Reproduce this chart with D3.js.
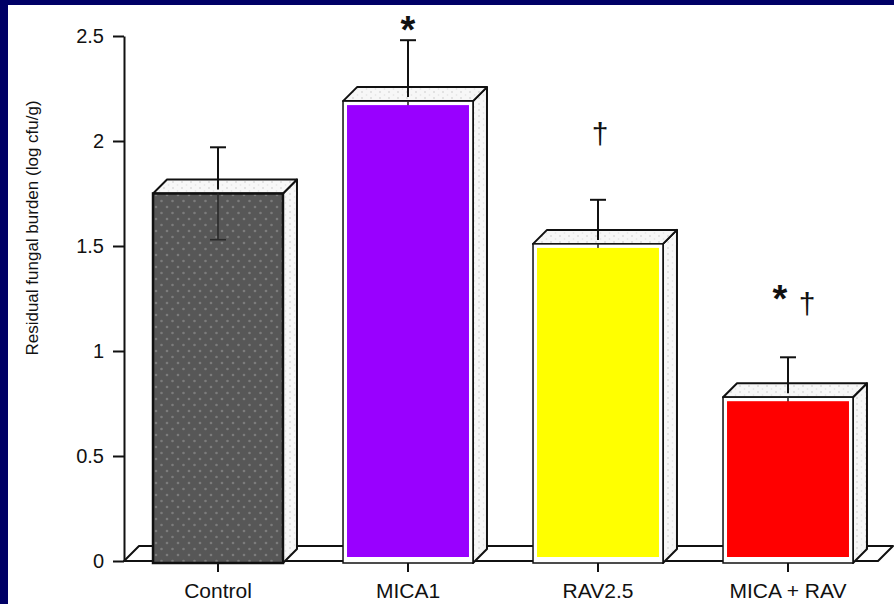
<!DOCTYPE html>
<html>
<head>
<meta charset="utf-8">
<script src="https://cdn.jsdelivr.net/npm/d3@7"></script>
<style>
  body { margin: 0; background: #000066; }
  svg { display: block; font-family: "Liberation Sans", Arial, sans-serif; }
</style>
</head>
<body>
<div id="chart"></div>
<script>
// residual fungal burden, 3d-ish bar chart
var categories = ["Control", "MICA1", "RAV2.5", "MICA + RAV"];
var means = [1.75, 2.19, 1.51, 0.78];
var errors = [0.22, 0.29, 0.21, 0.19];
var fills = ["pattern", "#9900ff", "#ffff00", "#ff0000"];
var yTicks = [0, 0.5, 1, 1.5, 2, 2.5];
// significance marks: category, symbol, height (data units), nudge
var marks = [
  {cat: "MICA1", sym: "*", at: 2.57, nudge: 0},
  {cat: "RAV2.5", sym: "\u2020", at: 2.03, nudge: 2},
  {cat: "MICA + RAV", sym: "*", at: 1.29, nudge: -8},
  {cat: "MICA + RAV", sym: "\u2020", at: 1.22, nudge: 19}
];

var W = 894, H = 604, depth = 14;

var svg = d3.select("#chart").append("svg")
  .attr("width", W)
  .attr("height", H);

var defs = svg.append("defs");
var pat = defs.append("pattern")
  .attr("id", "stipple")
  .attr("patternUnits", "userSpaceOnUse")
  .attr("width", 11).attr("height", 12);
pat.append("rect").attr("width", 11).attr("height", 12).attr("fill", "#575757");
pat.append("circle").attr("cx", 2).attr("cy", 3).attr("r", 1.3).attr("fill", "#7c7c7c");
pat.append("circle").attr("cx", 7.5).attr("cy", 9).attr("r", 1.3).attr("fill", "#7c7c7c");

var speck = defs.append("pattern")
  .attr("id", "speck")
  .attr("patternUnits", "userSpaceOnUse")
  .attr("width", 9).attr("height", 6);
speck.append("rect").attr("width", 9).attr("height", 6).attr("fill", "#f7f7f7");
speck.append("circle").attr("cx", 2).attr("cy", 2).attr("r", 1).attr("fill", "#dcdcdc");
speck.append("circle").attr("cx", 6.5).attr("cy", 5).attr("r", 0.8).attr("fill", "#e2e2e2");

// white panel inside the navy frame
svg.append("rect")
  .attr("x", 8).attr("y", 5)
  .attr("width", W - 8).attr("height", H - 5)
  .attr("fill", "#ffffff");

var x = d3.scaleBand()
  .domain(categories)
  .range([123, 883])
  .paddingInner(0.316)
  .paddingOuter(0.158);

var y = d3.scaleLinear()
  .domain([0, 2.5])
  .range([561, 36]);

var base = y(0);

// floor
var fx0 = x.range()[0] + 1, fx1 = x.range()[1] - 5;
svg.append("polygon")
  .attr("points", [[fx0, base], [fx0 + depth + 1, base - depth - 1],
                   [fx1 + depth + 1, base - depth - 1], [fx1, base]].join(" "))
  .attr("fill", "#ffffff")
  .attr("stroke", "#111")
  .attr("stroke-width", 2)
  .attr("stroke-linejoin", "round");

var bars = svg.selectAll("g.bar")
  .data(categories.map((c, i) => ({cat: c, v: means[i], e: errors[i], fill: fills[i]})))
  .enter().append("g")
  .attr("class", "bar");

bars.each(function(d) {
  var g = d3.select(this);
  var x0 = x(d.cat), x1 = x(d.cat) + x.bandwidth();
  var yt = y(d.v), yb = base + 2;
  var cx = (x0 + x1) / 2;

  // side face
  g.append("polygon")
    .attr("points", [[x1, yt], [x1 + depth, yt - depth], [x1 + depth, yb - depth], [x1, yb]].join(" "))
    .attr("fill", "url(#speck)")
    .attr("stroke", "#111").attr("stroke-width", 2).attr("stroke-linejoin", "round");
  // top face
  g.append("polygon")
    .attr("points", [[x0, yt], [x0 + depth, yt - depth], [x1 + depth, yt - depth], [x1, yt]].join(" "))
    .attr("fill", "url(#speck)")
    .attr("stroke", "#111").attr("stroke-width", 2).attr("stroke-linejoin", "round");
  // front face
  g.append("rect")
    .attr("x", x0).attr("y", yt)
    .attr("width", x1 - x0).attr("height", yb - yt)
    .attr("fill", d.fill == "pattern" ? "url(#stipple)" : "#ffffff")
    .attr("stroke", "#111")
    .attr("stroke-width", d.fill == "pattern" ? 2.5 : 1.5);

  // lower whisker (only shows through the stippled bar)
  g.append("line")
    .attr("x1", cx).attr("x2", cx)
    .attr("y1", yt).attr("y2", y(d.v - d.e))
    .attr("stroke", "#2a2a2a").attr("stroke-width", 1.6);
  g.append("line")
    .attr("x1", cx - 8).attr("x2", cx + 8)
    .attr("y1", y(d.v - d.e)).attr("y2", y(d.v - d.e))
    .attr("stroke", "#2a2a2a").attr("stroke-width", 1.6);

  if (d.fill != "pattern") {
    g.append("rect")
      .attr("x", x0 + 4).attr("y", yt + 4)
      .attr("width", x1 - x0 - 8).attr("height", yb - yt - 10)
      .attr("fill", d.fill);
  }

  // upper whisker, drawn over the top face
  g.append("line")
    .attr("x1", cx).attr("x2", cx)
    .attr("y1", yt - 4).attr("y2", y(d.v + d.e))
    .attr("stroke", "#111").attr("stroke-width", 2);
  g.append("line")
    .attr("x1", cx - 8).attr("x2", cx + 8)
    .attr("y1", y(d.v + d.e)).attr("y2", y(d.v + d.e))
    .attr("stroke", "#111").attr("stroke-width", 2);
});

// significance symbols
svg.selectAll("text.mark")
  .data(marks)
  .enter().append("text")
  .attr("class", "mark")
  .attr("x", d => x(d.cat) + x.bandwidth() / 2 + d.nudge)
  .attr("y", d => y(d.at))
  .attr("text-anchor", "middle")
  .attr("dy", d => d.sym == "*" ? "0.58em" : "0.3em")
  .style("font-size", d => d.sym == "*" ? "38px" : "30px")
  .style("font-weight", d => d.sym == "*" ? "bold" : "normal")
  .attr("fill", "#111")
  .text(d => d.sym);

// y axis
var yAxis = svg.append("g")
  .attr("transform", "translate(124,0)")
  .call(d3.axisLeft(y)
    .tickValues(yTicks)
    .tickFormat(d => String(d))
    .tickSize(11)
    .tickSizeOuter(0)
    .tickPadding(9));
yAxis.select(".domain").attr("stroke", "#111").attr("stroke-width", 2);
yAxis.selectAll(".tick line").attr("stroke", "#111").attr("stroke-width", 2);
yAxis.selectAll(".tick text")
  .style("font-size", "20px")
  .attr("fill", "#111");

// x axis (ticks below the bars only)
var xAxis = svg.append("g")
  .attr("transform", "translate(0," + (base + 2) + ")")
  .call(d3.axisBottom(x).tickSize(9).tickPadding(11));
xAxis.select(".domain").remove();
xAxis.selectAll(".tick line").attr("stroke", "#111").attr("stroke-width", 2);
xAxis.selectAll(".tick text")
  .style("font-size", "21px")
  .attr("fill", "#111");

// y axis title
svg.append("text")
  .attr("transform", "translate(38," + 228 + ") rotate(-90)")
  .attr("text-anchor", "middle")
  .style("font-size", "17px")
  .attr("fill", "#111")
  .text("Residual fungal burden (log cfu/g)");
</script>
</body>
</html>
